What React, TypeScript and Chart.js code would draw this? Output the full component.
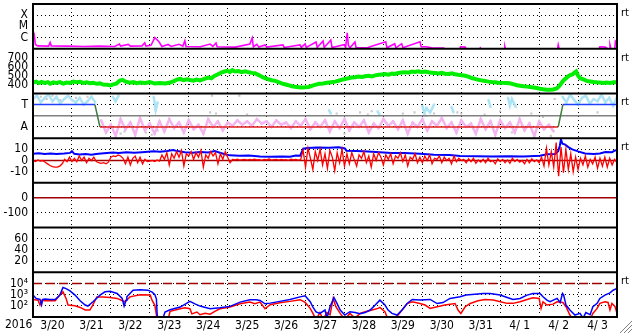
import React, { useEffect, useRef } from 'react';
import { Chart, registerables } from 'chart.js';

Chart.register(...registerables);

// ---------- axis categories / tick labels ----------
const dayLabels = ['3/20', '3/21', '3/22', '3/23', '3/24', '3/25', '3/26', '3/27', '3/28', '3/29', '3/30', '3/31', '4/ 1', '4/ 2', '4/ 3'];
const yearLabel = '2016';
const dayMin = 0;
const dayMax = 15;

const xrayTickValues = [1e-6, 1e-5, 1e-4];
const xrayTickLabels = ['C', 'M', 'X'];
const windTickValues = [400, 500, 600, 700];
const windTickLabels = ['400', '500', '600', '700'];
const sectorTickValues = [-1, 1];
const sectorTickLabels = ['A', 'T'];
const imfTickValues = [-10, 0, 10];
const imfTickLabels = ['-10', '0', '10'];
const dstTickValues = [-100, 0];
const dstTickLabels = ['-100', '0'];
const kpTickValues = [20, 40, 60];
const kpTickLabels = ['20', '40', '60'];
const electronTickValues = [1e2, 1e3, 1e4];
const electronTickLabels = ['10²', '10³', '10⁴'];
const rightMarkLabel = 'rt';

// ---------- data: [day since 3/20 00:00, value] ----------
const xrayFlux = [
  [0.00, 4.0e-6], [0.03, 2.0e-6], [0.06, 2.4e-7], [0.12, 1.8e-7], [0.40, 1.7e-7], [0.44, 3.6e-7], [0.47, 1.8e-7],
  [0.90, 1.7e-7], [1.30, 1.6e-7], [1.70, 1.7e-7], [2.10, 1.6e-7], [2.22, 2.6e-7], [2.25, 1.7e-7], [2.45, 2.4e-7],
  [2.50, 1.7e-7], [2.80, 1.8e-7], [2.87, 3.4e-7], [2.90, 1.7e-7], [3.03, 2.0e-7], [3.13, 1.0e-6], [3.24, 4.0e-7],
  [3.31, 1.6e-7], [3.47, 2.4e-7], [3.55, 1.6e-7], [3.75, 2.5e-7], [3.85, 1.7e-7], [3.90, 5.0e-7], [3.93, 1.6e-7],
  [4.30, 1.5e-7], [4.55, 2.6e-7], [4.62, 1.6e-7], [4.70, 3.2e-7], [4.73, 1.5e-7], [5.20, 1.4e-7], [5.57, 2.6e-7],
  [5.63, 9.0e-7], [5.66, 1.5e-7], [5.75, 2.5e-7], [5.80, 1.4e-7], [5.96, 2.2e-7], [6.00, 1.4e-7], [6.42, 2.2e-7],
  [6.45, 1.3e-7], [6.86, 2.2e-7], [6.89, 1.3e-7], [6.99, 2.7e-7], [7.02, 1.3e-7], [7.27, 4.0e-7], [7.30, 1.3e-7],
  [7.45, 5.0e-7], [7.48, 1.3e-7], [7.65, 6.0e-7], [7.68, 1.3e-7], [7.99, 2.3e-7], [8.03, 1.3e-7], [8.07, 2.6e-6],
  [8.10, 2.0e-7], [8.14, 1.2e-7], [8.27, 4.0e-7], [8.30, 1.2e-7], [8.60, 1.3e-7], [9.06, 4.2e-7], [9.09, 1.2e-7],
  [9.29, 2.8e-7], [9.32, 1.2e-7], [9.47, 2.8e-7], [9.50, 1.2e-7], [9.94, 4.2e-7], [9.97, 1.5e-7], [10.10, 1.5e-7],
  [10.24, 1.2e-7], [10.55, 1.15e-7], [10.60, 8e-8], [10.96, 8e-8], [10.98, 1.5e-7], [11.10, 1.4e-7], [11.14, 8e-8],
  [11.45, 8e-8], [11.49, 1.2e-7], [11.52, 8e-8], [12.10, 8e-8], [12.12, 1.5e-7], [12.14, 8e-8], [13.47, 8e-8],
  [13.49, 2.2e-7], [13.52, 8e-8], [14.53, 8e-8], [14.56, 1.5e-7], [14.70, 1.4e-7], [14.80, 8e-8], [14.82, 2.2e-7],
  [14.85, 8e-8], [14.94, 8e-8], [14.96, 4.5e-7], [15.00, 3.0e-7],
];

const windSpeed = [
  [0.00, 422], [0.08, 432], [0.15, 415], [0.22, 428], [0.30, 418], [0.38, 426], [0.44, 408], [0.52, 424], [0.60, 418],
  [0.69, 426], [0.78, 410], [0.86, 422], [0.95, 418], [1.04, 432], [1.12, 424], [1.21, 430], [1.30, 418], [1.38, 424],
  [1.46, 414], [1.55, 420], [1.63, 408], [1.72, 414], [1.80, 400], [1.90, 398], [1.98, 390], [2.06, 402], [2.14, 410],
  [2.23, 444], [2.30, 452], [2.38, 432], [2.49, 420], [2.58, 426], [2.66, 414], [2.75, 422], [2.88, 418], [3.00, 426],
  [3.13, 410], [3.26, 416], [3.40, 412], [3.52, 422], [3.62, 438], [3.70, 455], [3.78, 462], [3.86, 448], [3.95, 458],
  [4.03, 450], [4.12, 442], [4.20, 455], [4.29, 446], [4.40, 462], [4.50, 478], [4.58, 470], [4.66, 495], [4.74, 512],
  [4.80, 526], [4.88, 540], [4.98, 552], [5.06, 540], [5.12, 560], [5.19, 545], [5.28, 550], [5.36, 538], [5.45, 548],
  [5.55, 536], [5.62, 530], [5.70, 525], [5.80, 505], [5.90, 482], [5.96, 470], [6.05, 458], [6.13, 448], [6.22, 440],
  [6.32, 425], [6.40, 410], [6.47, 402], [6.56, 392], [6.65, 380], [6.73, 374], [6.82, 370], [6.90, 366], [6.99, 368],
  [7.08, 372], [7.16, 385], [7.24, 396], [7.35, 408], [7.45, 412], [7.55, 420], [7.66, 426], [7.76, 432], [7.85, 442],
  [7.92, 452], [8.01, 462], [8.10, 470], [8.18, 478], [8.27, 482], [8.36, 488], [8.45, 484], [8.53, 492], [8.62, 498],
  [8.70, 490], [8.79, 502], [8.88, 508], [8.96, 512], [9.04, 516], [9.13, 510], [9.22, 522], [9.30, 518], [9.38, 528],
  [9.47, 534], [9.56, 538], [9.65, 532], [9.73, 544], [9.81, 540], [9.90, 548], [9.98, 538], [10.07, 545], [10.16, 536],
  [10.24, 532], [10.33, 528], [10.42, 524], [10.50, 530], [10.58, 520], [10.67, 518], [10.76, 526], [10.84, 514],
  [10.92, 508], [11.01, 504], [11.10, 498], [11.18, 488], [11.27, 472], [11.35, 462], [11.44, 452], [11.52, 446],
  [11.61, 440], [11.70, 432], [11.78, 428], [11.87, 425], [11.95, 420], [12.05, 418], [12.15, 416], [12.25, 414],
  [12.35, 402], [12.43, 392], [12.51, 386], [12.60, 380], [12.69, 376], [12.77, 372], [12.86, 366], [12.94, 360],
  [13.02, 352], [13.10, 346], [13.19, 342], [13.28, 340], [13.36, 344], [13.45, 356], [13.52, 385], [13.58, 420],
  [13.63, 448], [13.68, 465], [13.74, 490], [13.80, 505], [13.85, 512], [13.90, 530], [13.95, 545], [14.00, 498],
  [14.05, 472], [14.13, 458], [14.22, 440], [14.31, 434], [14.40, 428], [14.48, 424], [14.56, 422], [14.65, 418],
  [14.74, 422], [14.82, 418], [14.91, 424], [15.00, 426],
];

// sector polarity: +1 toward (T), -1 away (A)
const sectorPolarity = [[0, 1], [1.59, 1], [1.72, -1], [13.49, -1], [13.61, 1], [15, 1]];
const sectorZero = [[0, 0], [15, 0]];

const towardSamples = [
  [0.0, 1.5], [0.1, 1.8], [0.2, 1.2], [0.3, 1.6], [0.4, 1.9], [0.5, 1.3], [0.6, 1.7], [0.7, 1.1], [0.8, 1.5], [0.9, 1.8],
  [1.0, 1.4], [1.1, 1.2], [1.2, 1.6], [1.3, 1.0], [1.4, 1.3], [1.5, 1.7], [1.6, 1.2], [1.65, null],
  [2.05, 1.7], [2.12, 1.3], [2.2, 1.8], [2.25, null], [3.1, 1.7], [3.15, 0.5], [3.2, 1.2], [3.25, null],
  [7.6, 0.5], [7.65, 0.2], [7.7, null], [8.85, 0.4], [8.9, 0.1], [8.95, null],
  [10.0, 0.9], [10.05, 0.2], [10.1, 0.7], [10.2, 0.3], [10.3, 1.0], [10.35, null], [10.75, 0.8], [10.8, 0.3], [10.85, null],
  [11.7, 1.4], [11.75, 0.8], [11.8, null], [12.2, 1.6], [12.25, 0.9], [12.3, 1.5], [12.4, 0.8], [12.45, null],
  [13.6, 1.7], [13.7, 1.2], [13.8, 1.9], [13.9, 1.4], [14.0, 1.0], [14.1, 1.6], [14.2, 1.8], [14.3, 1.1], [14.4, 1.5],
  [14.5, 1.3], [14.6, 1.9], [14.7, 1.2], [14.8, 1.6], [14.9, 0.9], [15.0, 1.7],
];

const awayStartDay = 1.75;
const awayStepDay = 0.125;
const awaySamples = [
  -0.4, -1.5, -0.8, -1.8, -0.3, -1.2, -0.6, -1.7, -0.2, -1.3, -0.7, -1.6, -0.5, -1.4, -0.3, -1.1, -0.6, -1.5, -0.4, -1.2,
  -0.8, -1.6, -0.3, -1.0, -0.5, -1.3, -0.6, -0.9, -0.4, -0.8, -0.5, -0.9, -0.3, -0.7, -0.5, -1.0, -0.4, -0.8, -0.6, -1.1,
  -0.5, -0.9, -0.3, -1.2, -0.6, -1.0, -0.4, -1.4, -0.5, -1.1, -0.3, -1.3, -0.6, -1.0, -0.4, -1.5, -0.7, -1.1, -0.3, -0.9,
  -0.5, -1.2, -0.4, -1.6, -0.6, -1.0, -0.3, -1.3, -0.5, -0.9, -0.2, -1.1, -0.6, -1.5, -0.4, -1.0, -0.7, -1.6, -0.3, -1.2,
  -0.5, -1.7, -0.4, -1.1, -0.6, -1.5, -0.3, -1.3, -0.7, -1.8, -0.5, -1.2, -0.8, -1.4,
];

const mixedSamples = [
  [0.2, 1.7], [0.35, 1.5], [0.5, 1.8], [0.7, 1.4], [1.1, 1.6], [1.4, 1.7], [2.25, -1.6], [2.35, -1.4], [2.9, -1.5],
  [3.05, -1.7], [3.2, -1.3], [4.55, 0.3], [4.6, 1.8], [4.7, 0.2], [5.3, 1.8], [5.5, 0.1], [7.8, 0.2], [8.0, -1.6],
  [8.4, 0.3], [8.6, 0.1], [8.7, 0.4], [9.5, 0.2], [9.8, 0.3], [10.1, 0.0], [10.3, 0.2], [10.9, 0.3], [11.0, 0.2],
  [11.6, 0.1], [12.0, 0.4], [12.3, -1.5], [12.8, 0.2], [12.9, -1.7], [13.1, -0.1], [13.3, -1.8], [13.4, 1.5],
  [14.5, 0.3], [15.0, 0.2],
];

const imfTotal = [
  [0.00, 6.0], [0.15, 6.4], [0.30, 5.8], [0.45, 6.2], [0.60, 5.9], [0.80, 6.3], [0.95, 6.8], [1.00, 8.4], [1.06, 6.0],
  [1.20, 5.4], [1.35, 5.8], [1.50, 5.2], [1.62, 5.8], [1.75, 6.3], [1.90, 6.8], [2.05, 7.2], [2.20, 6.8], [2.40, 7.3],
  [2.60, 6.9], [2.80, 7.4], [2.95, 7.8], [3.10, 8.2], [3.26, 7.9], [3.45, 8.6], [3.60, 9.3], [3.70, 8.4], [3.90, 7.4],
  [4.10, 7.0], [4.30, 7.6], [4.50, 7.2], [4.67, 8.4], [4.80, 7.0], [4.93, 5.6], [5.06, 4.6], [5.30, 4.2], [5.55, 4.4],
  [5.83, 3.6], [6.10, 3.3], [6.40, 3.5], [6.60, 3.4], [6.75, 4.4], [6.86, 4.2], [6.94, 10.6], [7.05, 11.2], [7.30, 11.6],
  [7.60, 11.4], [7.85, 11.8], [8.01, 10.8], [8.05, 8.8], [8.30, 8.4], [8.60, 8.0], [8.91, 7.4], [9.20, 6.8], [9.55, 6.6],
  [9.94, 6.0], [10.30, 5.2], [10.70, 5.0], [10.97, 4.0], [11.40, 3.8], [11.80, 3.6], [12.20, 3.8], [12.60, 3.6],
  [13.02, 4.2], [13.20, 5.6], [13.41, 5.8], [13.49, 8.4], [13.53, 13.0], [13.56, 18.8], [13.60, 15.0], [13.67, 14.2],
  [13.75, 12.0], [13.85, 10.0], [14.00, 8.2], [14.18, 6.2], [14.40, 5.8], [14.56, 6.2], [14.70, 7.6], [14.87, 7.4],
  [14.95, 9.0], [15.00, 9.2],
];

// Bz sampled every 1.5 hours
const imfBzStartDay = 0;
const imfBzStepDay = 1 / 16;
const imfBz = [
  0, -1, 0.5, -0.5, 0,
  -1.5, -3, -4.5, -5.5, -6, -6, -5,
  -3, 1, -1, 3, -1,
  2, -1, 4, 0, 3, -2, 2, 0, 3,
  -1, -2, -2.5, -2, -3, -1.5,
  3, 4, 3.5, 5, 4, 2,
  -3, 3, -4, 2, 4, -2, 3, -3, 1, -1,
  -0.5, 0, -1, 0.5, -0.5,
  5, 1, 7, -4, 6, 2, 8, 3, 9, -5, 6, 4, 8, 1, 7, 3, 9, -6, 5, 2, 8, 4, 7, -3, 6, 1, 8, 3, -2,
  1, 0.5, 1.2, 0.4, 0.8, 1, 0.3, 0.9, 0.6, 1.1, 0.5, 0.8, 0.2, 1, 0.6, 1.3, 0.4, 0.7, 0.9, 0.3, 1, 0.6, 0.8, 0.2, 1.1, 0.5, 0.9, 0.4, 0.7,
  9, -6, 11, 2, -8, 8, 0, 10, -4, 6, -7, 9, 3, -9, 7, -2, 10, -5,
  6, -3, 7, 1, -5, 5, 2, 8, -2, 4, -6, 6, 0, 7, 3, -4, 5, 1, 6, -3, 4, 2, 7, -1, 5, -5, 3, 1, 6, -2,
  3, -2, 4, 0, 5, -3, 2, 1, 4, -2, 3, 0, 2, -3, 4, -1, 2, 0,
  1, -2, 1.5, -1, 2, -2.5, 0.5, -1.5, 1, -2, 2, -1, 0, -3, 1.5, -1, 1, -2, 0.5, -2.5, 2, -1, 1, -1.5, 0, -3, 1, -2, 1.5, -1, 0.5, -2,
  3, -5, 11, -4, 8, -6,
  16, -14, 12,
  -11, 10, -8, 6, -10,
  3, -8, 2, -4, 4, -6, 1, -3, 3, -7, 2,
  -5, 3, -6, 2, -4, 1, -2,
];
const imfZero = [[0, 0], [15, 0]];
const dstZero = [[0, 0], [15, 0]];

const electronLow = [
  [0.00, 910], [0.08, 460], [0.18, 370], [0.22, 120], [0.25, 380], [0.31, 400], [0.44, 370], [0.57, 370], [0.69, 910],
  [0.77, 4400], [0.85, 3500], [0.95, 2200], [1.08, 910], [1.21, 280], [1.34, 117], [1.41, 95], [1.54, 230], [1.72, 910],
  [1.85, 1780], [1.98, 2040], [2.16, 1260], [2.29, 460], [2.34, 95], [2.39, 320], [2.41, 650], [2.57, 2500], [2.75, 2800],
  [2.95, 2500], [3.06, 1660], [3.13, 1000], [3.17, 400], [3.19, 14], [3.26, 6], [3.34, 8], [3.39, 28], [3.52, 45],
  [3.78, 78], [3.90, 135], [4.03, 250], [4.16, 150], [4.29, 95], [4.55, 55], [4.80, 68], [5.06, 89], [5.32, 214],
  [5.57, 347], [5.73, 347], [5.83, 302], [5.96, 151], [6.09, 174], [6.34, 250], [6.60, 370], [6.86, 630], [6.99, 800],
  [7.12, 230], [7.19, 78], [7.27, 28], [7.37, 21], [7.50, 42], [7.55, 8], [7.63, 83], [7.73, 560], [7.81, 160],
  [7.89, 42], [8.01, 15], [8.14, 30], [8.27, 25], [8.40, 20], [8.53, 25], [8.66, 42], [8.79, 117], [8.91, 324],
  [9.04, 117], [9.12, 42], [9.22, 21], [9.35, 15], [9.48, 42], [9.61, 160], [9.74, 370], [9.94, 324], [10.20, 370],
  [10.38, 160], [10.53, 195], [10.71, 460], [10.97, 650], [11.12, 910], [11.35, 1100], [11.56, 1260], [11.74, 1260],
  [12.00, 910], [12.18, 560], [12.33, 370], [12.51, 460], [12.69, 910], [12.84, 1260], [13.02, 1260], [13.10, 650],
  [13.20, 324], [13.28, 230], [13.46, 460], [13.54, 200], [13.60, 1260], [13.63, 910], [13.69, 117], [13.79, 42],
  [13.92, 15], [14.05, 21], [14.13, 8], [14.20, 25], [14.31, 16], [14.38, 83], [14.49, 166], [14.56, 460], [14.69, 910],
  [14.82, 1450], [14.90, 2500], [15.00, 3500],
];

const electronHigh = [
  [0.00, 370], [0.13, 320], [0.18, 117], [0.23, 320], [0.31, 280], [0.57, 280], [0.69, 910], [0.77, 1780], [0.85, 460],
  [0.90, 117], [1.08, 100], [1.21, 72], [1.34, 42], [1.46, 42], [1.52, 95], [1.64, 630], [1.80, 630], [1.98, 560],
  [2.16, 460], [2.36, 230], [2.49, 630], [2.75, 1000], [3.01, 910], [3.06, 300], [3.13, 110], [3.19, 6], [3.47, 6],
  [3.52, 32], [3.78, 55], [3.90, 68], [4.03, 55], [4.08, 19], [4.21, 28], [4.29, 16], [4.42, 22], [4.55, 18], [4.67, 32],
  [4.80, 55], [5.06, 78], [5.32, 151], [5.57, 214], [5.70, 151], [5.83, 214], [5.96, 55], [6.09, 126], [6.34, 186],
  [6.60, 250], [6.86, 355], [6.99, 200], [7.12, 59], [7.19, 21], [7.27, 6], [7.37, 25], [7.45, 6], [7.55, 25], [7.63, 16],
  [7.71, 460], [7.78, 83], [7.89, 21], [8.01, 6], [8.14, 21], [8.27, 8], [8.40, 21], [8.53, 30], [8.71, 42], [8.86, 59],
  [8.91, 72], [9.04, 30], [9.12, 6], [9.25, 6], [9.38, 15], [9.48, 42], [9.61, 160], [9.74, 230], [9.94, 160],
  [10.07, 117], [10.20, 59], [10.38, 83], [10.58, 117], [10.84, 160], [10.92, 40], [10.99, 21], [11.10, 83], [11.23, 160],
  [11.43, 280], [11.61, 370], [11.82, 324], [12.00, 230], [12.18, 166], [12.33, 166], [12.51, 230], [12.69, 370],
  [12.84, 525], [13.00, 460], [13.05, 59], [13.10, 230], [13.20, 117], [13.36, 141], [13.46, 230], [13.61, 200],
  [13.69, 83], [13.79, 15], [13.87, 6], [14.31, 6], [14.38, 21], [14.49, 59], [14.56, 166], [14.69, 230], [14.77, 200],
  [14.82, 42], [14.87, 166], [14.95, 83], [15.00, 21],
];
const electronAlert = [[0, 1e4], [15, 1e4]];

// ---------- helpers ----------
const pts = (pairs: any[]) => pairs.map(([x, y]) => ({ x, y }));
const seq = (start: number, step: number, vals: number[]) => vals.map((y, i) => ({ x: start + i * step, y }));

const FONT = '"Liberation Sans Narrow", "DejaVu Sans Condensed", "Liberation Sans", Arial, sans-serif';
const tickFont = { family: FONT, size: 12 };
const AXIS_W = 33;

function yAxis(weight: number, type: string, min: number, max: number, vals: number[], labels: string[]) {
  return {
    type, min, max,
    position: 'left',
    stack: 'panels',
    stackWeight: 1,
    weight,
    offset: false,
    afterFit: (s: any) => {
      s.width = AXIS_W;
      s.paddingTop = 0; s.paddingBottom = 0; s.paddingLeft = 0; s.paddingRight = 0;
    },
    afterBuildTicks: (s: any) => { s.ticks = vals.map((v) => ({ value: v })); },
    ticks: {
      font: tickFont, color: '#000', padding: 5, autoSkip: false,
      callback: (_v: any, i: number) => labels[i],
    },
    grid: { color: '#000', lineWidth: 1, drawTicks: false },
    border: { display: false, dash: [1, 3] },
  };
}

const panelIds = ['yX', 'yV', 'yS', 'yB', 'yD', 'yK', 'yE'];
const rtPanels = ['yX', 'yV', 'yS', 'yB', 'yE'];

const panelPlugin = {
  id: 'panelFrames',
  beforeDatasetDraw(chart: any, args: any) {
    const ys = args.meta.yScale;
    const { ctx, chartArea } = chart;
    ctx.save();
    ctx.beginPath();
    ctx.rect(chartArea.left, ys.top, chartArea.right - chartArea.left, ys.bottom - ys.top);
    ctx.clip();
  },
  afterDatasetDraw(chart: any) {
    chart.ctx.restore();
  },
  afterDraw(chart: any) {
    const { ctx, chartArea } = chart;
    ctx.save();
    ctx.strokeStyle = '#000';
    ctx.lineWidth = 2;
    ctx.beginPath();
    panelIds.forEach((id) => {
      const s = chart.scales[id];
      ctx.moveTo(chartArea.left - 1, s.top);
      ctx.lineTo(chartArea.right + 1, s.top);
    });
    ctx.moveTo(chartArea.left - 1, chartArea.bottom);
    ctx.lineTo(chartArea.right + 1, chartArea.bottom);
    ctx.moveTo(chartArea.left, chartArea.top);
    ctx.lineTo(chartArea.left, chartArea.bottom);
    ctx.moveTo(chartArea.right, chartArea.top);
    ctx.lineTo(chartArea.right, chartArea.bottom);
    ctx.stroke();

    ctx.fillStyle = '#000';
    ctx.font = '11px ' + FONT;
    ctx.textAlign = 'left';
    ctx.textBaseline = 'middle';
    rtPanels.forEach((id) => {
      ctx.fillText(rightMarkLabel, chartArea.right + 4, chart.scales[id].top + 9);
    });

    const x2 = chart.scales.x2;
    ctx.font = '12px ' + FONT;
    ctx.textBaseline = 'top';
    ctx.fillText(yearLabel, 5, x2.top + 2);

    // window resize grip
    const W = chart.width, H = chart.height;
    [12, 8, 4].forEach((d) => {
      ctx.strokeStyle = '#808080';
      ctx.lineWidth = 1;
      ctx.beginPath();
      ctx.moveTo(W - 1, H - 1 - d);
      ctx.lineTo(W - 1 - d, H - 1);
      ctx.stroke();
      ctx.strokeStyle = '#ffffff';
      ctx.beginPath();
      ctx.moveTo(W - 1, H - d);
      ctx.lineTo(W - d, H - 1);
      ctx.stroke();
    });
    ctx.restore();
  },
};

function buildConfig(): any {
  const line = (data: any[], yAxisID: string, color: string, width: number, order: number, extra: any = {}) => ({
    data, yAxisID, xAxisID: 'x', borderColor: color, backgroundColor: color, borderWidth: width,
    pointRadius: 0, fill: false, order, ...extra,
  });
  const dots = { pointRadius: 1.5, pointStyle: 'rect', pointBorderWidth: 0 };
  return {
    type: 'line',
    data: {
      datasets: [
        line(pts(xrayFlux), 'yX', '#ff00ff', 1.6, 1),
        line(pts(windSpeed), 'yV', '#00ee00', 4, 1),
        line(pts(mixedSamples), 'yS', '#c8c8c8', 0, 9, { showLine: false, ...dots }),
        line(seq(awayStartDay, awayStepDay, awaySamples), 'yS', '#f4b4f0', 2.5, 8, dots),
        line(pts(towardSamples), 'yS', '#ace4f6', 2.5, 7, dots),
        line(pts(sectorZero), 'yS', '#808080', 1.5, 6),
        line(pts(sectorPolarity), 'yS', '#2040ff', 1.5, 5, {
          segment: {
            borderColor: (c: any) => c.p0.parsed.y === c.p1.parsed.y
              ? (c.p0.parsed.y > 0 ? '#2040ff' : '#e02020')
              : '#3c7c3c',
          },
        }),
        line(pts(imfZero), 'yB', '#a00000', 1.5, 9),
        line(pts(imfTotal), 'yB', '#0000ff', 2, 8),
        line(seq(imfBzStartDay, imfBzStepDay, imfBz), 'yB', '#ff0000', 1.3, 7),
        line(pts(dstZero), 'yD', '#a00000', 1.5, 5),
        line(pts(electronAlert), 'yE', '#a00000', 1.5, 9, { borderDash: [9, 4] }),
        line(pts(electronHigh), 'yE', '#ff0000', 1.5, 8),
        line(pts(electronLow), 'yE', '#0000ff', 1.5, 7),
      ],
    },
    options: {
      responsive: false,
      maintainAspectRatio: false,
      animation: false,
      devicePixelRatio: 1,
      events: [],
      layout: { padding: { left: 0, right: 16, top: 2, bottom: 0 } },
      plugins: { legend: { display: false }, tooltip: { enabled: false } },
      elements: { line: { tension: 0 }, point: { radius: 0 } },
      scales: {
        x: {
          type: 'linear', min: dayMin, max: dayMax, position: 'bottom',
          afterFit: (s: any) => { s.height = 0; s.paddingLeft = 0; s.paddingRight = 0; },
          ticks: { display: false, stepSize: 1 },
          grid: { color: '#000', lineWidth: 1, drawTicks: false },
          border: { display: false, dash: [1, 3] },
        },
        x2: {
          type: 'linear', min: dayMin, max: dayMax, position: 'bottom',
          afterFit: (s: any) => { s.height = 17; s.paddingLeft = 0; s.paddingRight = 0; },
          afterBuildTicks: (s: any) => { s.ticks = dayLabels.map((_l, i) => ({ value: dayMin + i + 0.5 })); },
          ticks: {
            font: tickFont, color: '#000', padding: 2, maxRotation: 0, autoSkip: false,
            callback: (_v: any, i: number) => dayLabels[i],
          },
          grid: { display: false, drawTicks: false },
          border: { display: false },
        },
        yX: yAxis(7, 'logarithmic', 1e-7, 1e-3, xrayTickValues, xrayTickLabels),
        yV: yAxis(6, 'linear', 300, 800, windTickValues, windTickLabels),
        yS: yAxis(5, 'linear', -2, 2, sectorTickValues, sectorTickLabels),
        yB: yAxis(4, 'linear', -20, 20, imfTickValues, imfTickLabels),
        yD: yAxis(3, 'linear', -200, 100, dstTickValues, dstTickLabels),
        yK: yAxis(2, 'linear', 0, 80, kpTickValues, kpTickLabels),
        yE: yAxis(1, 'logarithmic', 10, 1e5, electronTickValues, electronTickLabels),
      },
    },
    plugins: [panelPlugin],
  };
}

export default function App() {
  const ref = useRef<HTMLCanvasElement>(null);
  useEffect(() => {
    if (!ref.current) return;
    const chart = new Chart(ref.current, buildConfig());
    return () => chart.destroy();
  }, []);
  return (
    <div style={{ position: 'absolute', left: 0, top: 0, width: 633, height: 334, background: '#fff' }}>
      <canvas ref={ref} width={633} height={334} style={{ display: 'block', width: 633, height: 334 }} />
    </div>
  );
}
